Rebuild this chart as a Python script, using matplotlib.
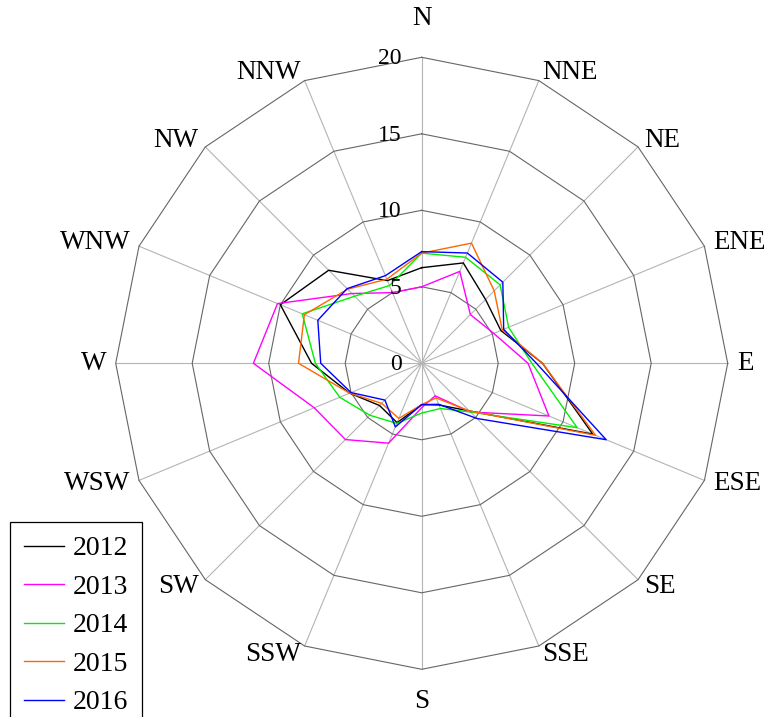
import numpy as np
import matplotlib
matplotlib.use("Agg")
import matplotlib.pyplot as plt
from matplotlib.lines import Line2D
from matplotlib.legend_handler import HandlerLine2D
from matplotlib.transforms import offset_copy

directions = ["N", "NNE", "NE", "ENE", "E", "ESE", "SE", "SSE",
              "S", "SSW", "SW", "WSW", "W", "WNW", "NW", "NNW"]
years = ["2012", "2013", "2014", "2015", "2016"]
v2012 = [6.25, 7.1, 5.9, 5.6, 7.9, 12.1, 4.4, 2.95, 2.7, 4.2, 3.9, 5.1, 7.2, 10.0, 8.6, 5.85]
v2013 = [5.0, 6.5, 4.5, 5.1, 6.95, 9.0, 4.5, 2.3, 2.9, 5.65, 7.05, 7.6, 11.0, 10.2, 6.45, 5.0]
v2014 = [7.2, 7.5, 7.25, 6.15, 7.2, 11.0, 4.5, 3.2, 3.25, 4.25, 4.8, 5.8, 6.95, 8.45, 6.2, 5.5]
v2015 = [7.2, 8.5, 6.7, 5.7, 7.9, 12.3, 4.4, 2.45, 2.7, 3.9, 3.7, 5.1, 8.05, 8.3, 6.85, 5.95]
v2016 = [7.3, 7.8, 7.5, 5.8, 7.5, 13.05, 5.1, 2.9, 2.7, 4.5, 3.4, 5.0, 6.6, 7.35, 6.9, 6.2]
rticks = [0, 5, 10, 15, 20]

series = [v2012, v2013, v2014, v2015, v2016]
colors = ["#000000", "#ff00ff", "#00ee00", "#ff6600", "#0000ff"]

plt.rcParams["font.family"] = ["Liberation Serif", "DejaVu Serif"]

fig = plt.figure(figsize=(7.72, 7.17), dpi=100)
cx, cy, R = 421.7 / 772, 1 - 363.3 / 717, 306.0
ax = fig.add_axes([cx - R / 772, cy - R / 717, 2 * R / 772, 2 * R / 717], projection="polar")
ax.set_theta_zero_location("N")
ax.set_theta_direction(-1)
ax.set_ylim(0, 20)
ax.grid(False)
ax.set_xticks([])
ax.set_yticks([])
ax.spines["polar"].set_visible(False)
ax.patch.set_alpha(0)

n = len(directions)
theta = np.arange(n) * 2 * np.pi / n
theta_c = np.append(theta, theta[0])

# spokes
for t in theta:
    ax.plot([t, t], [0, 20], color="#b4b4b4", lw=0.8, zorder=1, clip_on=False)
# polygon rings
for r in rticks[1:]:
    ax.plot(theta_c, [r] * (n + 1), color="#666666", lw=0.8, zorder=1, clip_on=False)

# data
for vals, col, yr in zip(series, colors, years):
    ax.plot(theta_c, list(vals) + [vals[0]], color=col, lw=1.0, label=yr, zorder=3, clip_on=False)

# direction labels
for i, (t, d) in enumerate(zip(theta, directions)):
    if i == 0:
        ax.text(t, 21.75, d, ha="center", va="bottom", fontsize=19.5)
    elif i == n // 2:
        ax.text(t, 21.3, d, ha="center", va="top", fontsize=19.5)
    else:
        ha = "left" if i < n // 2 else "right"
        ax.text(t, 20.6, d, ha=ha, va="center", fontsize=19.5)

# radial tick labels
trans = offset_copy(ax.transData, fig=fig, x=-20, y=-1.5, units="dots")
for r in rticks:
    ax.text(0, r, str(r), transform=trans, ha="right", va="center", fontsize=17)


class ShortLine(HandlerLine2D):
    def create_artists(self, legend, orig_handle, xdescent, ydescent, width, height, fontsize, trans):
        arts = super().create_artists(legend, orig_handle, xdescent, ydescent, width, height, fontsize, trans)
        for a in arts:
            xd = np.asarray(a.get_xdata(), dtype=float)
            if len(xd) == 2:
                a.set_xdata([xd[0] + 0.36 * (xd[1] - xd[0]), xd[1]])
        return arts


handles = [Line2D([], [], color=c, lw=1.0) for c in colors]
leg = fig.legend(handles, years, loc="upper left",
                 bbox_to_anchor=(10 / 772, 1 - 522 / 717), bbox_transform=fig.transFigure,
                 borderaxespad=0, fontsize=20, frameon=True, fancybox=False,
                 edgecolor="black", framealpha=1, borderpad=0.5, handlelength=1.46,
                 handletextpad=0.3, labelspacing=0.47,
                 handler_map={Line2D: ShortLine()})
leg.get_frame().set_linewidth(0.9)

fig.savefig("out.png", dpi=100)
